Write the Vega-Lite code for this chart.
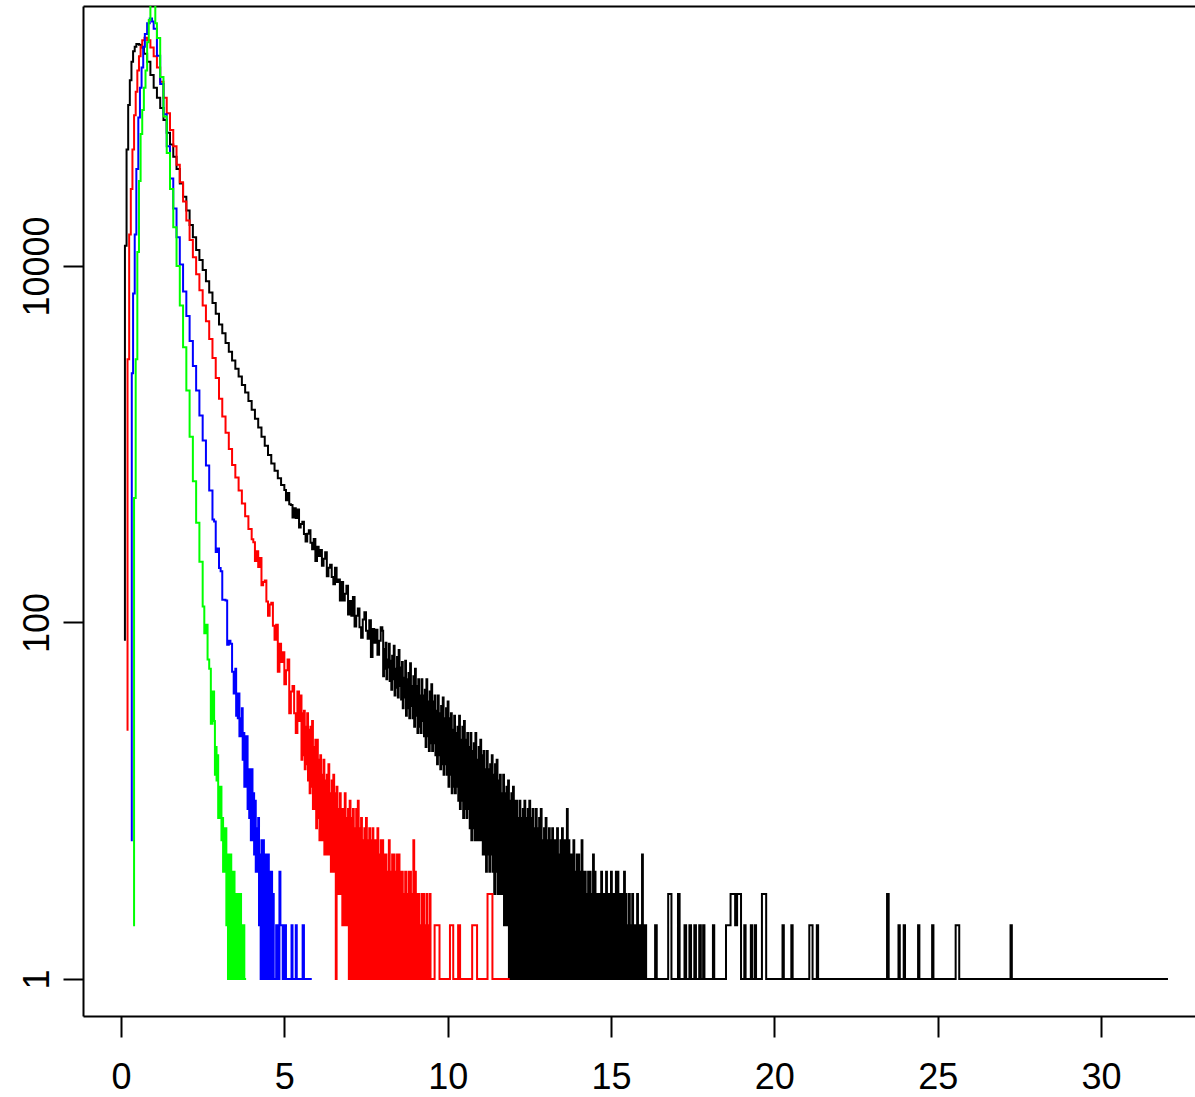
{
  "$schema": "https://vega.github.io/schema/vega-lite/v6.json",
  "width": 1112,
  "height": 1010,
  "autosize": {"type": "none"},
  "padding": {"left": 83, "top": 6, "right": 0, "bottom": 81},
  "background": "white",
  "config": {"view": {"stroke": null}, "font": "Liberation Sans"},
  "datasets": {
    "black": [
      {"x":0.09,"y":80},{"x":0.12,"y":13000},{"x":0.17,"y":45000},{"x":0.22,"y":80000},{"x":0.27,"y":110000},{"x":0.32,"y":140000},{"x":0.37,"y":160000},{"x":0.42,"y":170000},{"x":0.47,"y":176000},{"x":0.55,"y":174000},{"x":0.62,"y":168000},{"x":0.70,"y":155000},{"x":0.80,"y":140000},{"x":0.90,"y":118000},{"x":1.00,"y":100000},{"x":1.10,"y":88000},{"x":1.20,"y":77000},{"x":1.30,"y":66000},{"x":1.40,"y":56000},{"x":1.50,"y":48000},{"x":1.60,"y":41000},{"x":1.70,"y":35000},{"x":1.80,"y":29000},{"x":1.90,"y":24500},{"x":2.00,"y":20500},{"x":2.10,"y":17000},{"x":2.20,"y":14500},{"x":2.30,"y":12300},{"x":2.40,"y":10800},{"x":2.50,"y":9500},{"x":2.60,"y":8200},{"x":2.70,"y":7100},{"x":2.80,"y":6200},{"x":2.90,"y":5400},{"x":3.00,"y":4700},{"x":3.10,"y":4200},{"x":3.20,"y":3700},{"x":3.30,"y":3300},{"x":3.40,"y":2950},{"x":3.50,"y":2650},{"x":3.60,"y":2400},{"x":3.70,"y":2150},{"x":3.80,"y":1950},{"x":3.90,"y":1750},{"x":4.00,"y":1560},{"x":4.10,"y":1390},{"x":4.20,"y":1240},{"x":4.30,"y":1100},{"x":4.40,"y":980},{"x":4.50,"y":870},{"x":4.60,"y":780},{"x":4.70,"y":710},{"x":4.80,"y":645},{"x":4.90,"y":590},
      {"x":5.00,"y":553},{"x":5.05,"y":485},{"x":5.10,"y":532},{"x":5.15,"y":461},{"x":5.20,"y":456},{"x":5.25,"y":388},{"x":5.30,"y":437},{"x":5.35,"y":386},{"x":5.40,"y":430},{"x":5.45,"y":341},{"x":5.50,"y":357},{"x":5.55,"y":368},{"x":5.60,"y":314},{"x":5.65,"y":285},{"x":5.70,"y":315},{"x":5.75,"y":329},{"x":5.80,"y":280},{"x":5.85,"y":258},{"x":5.90,"y":294},{"x":5.95,"y":221},
      {"x":6.00,"y":266},{"x":6.05,"y":236},{"x":6.10,"y":255},{"x":6.15,"y":208},{"x":6.20,"y":228},{"x":6.25,"y":248},{"x":6.30,"y":182},{"x":6.35,"y":203},{"x":6.40,"y":211},{"x":6.45,"y":180},{"x":6.50,"y":164},{"x":6.55,"y":203},{"x":6.60,"y":169},{"x":6.65,"y":174},{"x":6.70,"y":133},{"x":6.75,"y":169},{"x":6.80,"y":133},{"x":6.85,"y":145},{"x":6.90,"y":161},{"x":6.95,"y":111},
      {"x":7.00,"y":132},{"x":7.05,"y":109},{"x":7.10,"y":139},{"x":7.15,"y":95},{"x":7.20,"y":109},{"x":7.25,"y":120},{"x":7.30,"y":94},{"x":7.35,"y":82},{"x":7.40,"y":104},{"x":7.45,"y":114},{"x":7.50,"y":90},{"x":7.55,"y":81},{"x":7.60,"y":103},{"x":7.65,"y":64},{"x":7.70,"y":92},{"x":7.75,"y":77},{"x":7.80,"y":91},{"x":7.85,"y":66},{"x":7.90,"y":79},{"x":7.95,"y":94},
      {"x":8.000,"y":90},{"x":8.025,"y":50},{"x":8.050,"y":71},{"x":8.075,"y":55},{"x":8.100,"y":77},{"x":8.125,"y":48},{"x":8.150,"y":62},{"x":8.175,"y":56},{"x":8.200,"y":76},{"x":8.225,"y":47},{"x":8.250,"y":61},{"x":8.275,"y":42},{"x":8.300,"y":65},{"x":8.325,"y":48},{"x":8.350,"y":74},{"x":8.375,"y":39},{"x":8.400,"y":55},{"x":8.425,"y":43},{"x":8.450,"y":64},{"x":8.475,"y":38},
      {"x":8.500,"y":70},{"x":8.525,"y":44},{"x":8.550,"y":56},{"x":8.575,"y":37},{"x":8.600,"y":60},{"x":8.625,"y":33},{"x":8.650,"y":49},{"x":8.675,"y":38},{"x":8.700,"y":61},{"x":8.725,"y":30},{"x":8.750,"y":48},{"x":8.775,"y":33},{"x":8.800,"y":52},{"x":8.825,"y":29},{"x":8.850,"y":59},{"x":8.875,"y":34},{"x":8.900,"y":44},{"x":8.925,"y":29},{"x":8.950,"y":50},{"x":8.975,"y":26},
      {"x":9.000,"y":55},{"x":9.025,"y":30},{"x":9.050,"y":44},{"x":9.075,"y":24},{"x":9.100,"y":48},{"x":9.125,"y":26},{"x":9.150,"y":39},{"x":9.175,"y":24},{"x":9.200,"y":48},{"x":9.225,"y":28},{"x":9.250,"y":39},{"x":9.275,"y":23},{"x":9.300,"y":42},{"x":9.325,"y":20},{"x":9.350,"y":48},{"x":9.375,"y":23},{"x":9.400,"y":36},{"x":9.425,"y":19},{"x":9.450,"y":41},{"x":9.475,"y":21},
      {"x":9.500,"y":45},{"x":9.525,"y":19},{"x":9.550,"y":36},{"x":9.575,"y":21},{"x":9.600,"y":39},{"x":9.625,"y":18},{"x":9.650,"y":32},{"x":9.675,"y":16},{"x":9.700,"y":39},{"x":9.725,"y":18},{"x":9.750,"y":31},{"x":9.775,"y":15},{"x":9.800,"y":34},{"x":9.825,"y":16},{"x":9.850,"y":38},{"x":9.875,"y":14},{"x":9.900,"y":29},{"x":9.925,"y":16},{"x":9.950,"y":33},{"x":9.975,"y":14},
      {"x":10.000,"y":36},{"x":10.025,"y":12},{"x":10.050,"y":29},{"x":10.075,"y":14},{"x":10.100,"y":31},{"x":10.125,"y":11},{"x":10.150,"y":25},{"x":10.175,"y":12},{"x":10.200,"y":30},{"x":10.225,"y":11},{"x":10.250,"y":24},{"x":10.275,"y":12},{"x":10.300,"y":26},{"x":10.325,"y":10},{"x":10.350,"y":30},{"x":10.375,"y":9},{"x":10.400,"y":22},{"x":10.425,"y":10},{"x":10.450,"y":26},{"x":10.475,"y":8},
      {"x":10.500,"y":28},{"x":10.525,"y":9},{"x":10.550,"y":22},{"x":10.575,"y":8},{"x":10.600,"y":24},{"x":10.625,"y":9},{"x":10.650,"y":20},{"x":10.675,"y":7},{"x":10.700,"y":24},{"x":10.725,"y":6},{"x":10.750,"y":19},{"x":10.775,"y":7},{"x":10.800,"y":21},{"x":10.825,"y":6},{"x":10.850,"y":24},{"x":10.875,"y":6},{"x":10.900,"y":17},{"x":10.925,"y":6},{"x":10.950,"y":20},{"x":10.975,"y":6},
      {"x":11.000,"y":22},{"x":11.025,"y":6},{"x":11.050,"y":18},{"x":11.075,"y":5},{"x":11.100,"y":19},{"x":11.125,"y":5},{"x":11.150,"y":15},{"x":11.175,"y":4},{"x":11.200,"y":19},{"x":11.225,"y":5},{"x":11.250,"y":15},{"x":11.275,"y":4},{"x":11.300,"y":16},{"x":11.325,"y":5},{"x":11.350,"y":18},{"x":11.375,"y":4},{"x":11.400,"y":14},{"x":11.425,"y":3},{"x":11.450,"y":16},{"x":11.475,"y":4},
      {"x":11.500,"y":17},{"x":11.525,"y":3},{"x":11.550,"y":13},{"x":11.575,"y":3},{"x":11.600,"y":14},{"x":11.625,"y":3},{"x":11.650,"y":11},{"x":11.675,"y":3},{"x":11.700,"y":14},{"x":11.725,"y":2},{"x":11.750,"y":11},{"x":11.775,"y":2},{"x":11.800,"y":12},{"x":11.825,"y":2},{"x":11.850,"y":13},{"x":11.875,"y":1},{"x":11.900,"y":10},{"x":11.925,"y":1},{"x":11.950,"y":11},{"x":11.975,"y":1},
      {"x":12.000,"y":12},{"x":12.025,"y":1},{"x":12.050,"y":10},{"x":12.075,"y":1},{"x":12.100,"y":10},{"x":12.125,"y":1},{"x":12.150,"y":8},{"x":12.175,"y":1},{"x":12.200,"y":10},{"x":12.225,"y":1},{"x":12.250,"y":8},{"x":12.275,"y":1},{"x":12.300,"y":9},{"x":12.325,"y":1},{"x":12.350,"y":10},{"x":12.375,"y":1},{"x":12.400,"y":8},{"x":12.425,"y":1},{"x":12.450,"y":9},{"x":12.475,"y":1},
      {"x":12.500,"y":10},{"x":12.525,"y":1},{"x":12.550,"y":8},{"x":12.575,"y":1},{"x":12.600,"y":9},{"x":12.625,"y":1},{"x":12.650,"y":7},{"x":12.675,"y":1},{"x":12.700,"y":9},{"x":12.725,"y":1},{"x":12.750,"y":7},{"x":12.775,"y":1},{"x":12.800,"y":8},{"x":12.825,"y":1},{"x":12.850,"y":9},{"x":12.875,"y":1},{"x":12.900,"y":6},{"x":12.925,"y":1},{"x":12.950,"y":7},{"x":12.975,"y":1},
      {"x":13.000,"y":8},{"x":13.025,"y":1},{"x":13.050,"y":6},{"x":13.075,"y":1},{"x":13.100,"y":7},{"x":13.125,"y":1},{"x":13.150,"y":6},{"x":13.175,"y":1},{"x":13.200,"y":7},{"x":13.225,"y":1},{"x":13.250,"y":6},{"x":13.275,"y":1},{"x":13.300,"y":6},{"x":13.325,"y":1},{"x":13.350,"y":7},{"x":13.375,"y":1},{"x":13.400,"y":5},{"x":13.425,"y":1},{"x":13.450,"y":6},{"x":13.475,"y":1},
      {"x":13.500,"y":7},{"x":13.525,"y":1},{"x":13.550,"y":6},{"x":13.575,"y":1},{"x":13.600,"y":6},{"x":13.625,"y":1},{"x":13.650,"y":9},{"x":13.675,"y":1},{"x":13.700,"y":6},{"x":13.725,"y":1},{"x":13.750,"y":5},{"x":13.775,"y":1},{"x":13.800,"y":5},{"x":13.825,"y":1},{"x":13.850,"y":6},{"x":13.875,"y":1},{"x":13.900,"y":4},{"x":13.925,"y":1},{"x":13.950,"y":5},{"x":13.975,"y":1},
      {"x":14.000,"y":5},{"x":14.025,"y":1},{"x":14.050,"y":4},{"x":14.075,"y":1},{"x":14.100,"y":6},{"x":14.125,"y":1},{"x":14.150,"y":4},{"x":14.175,"y":1},{"x":14.200,"y":4},{"x":14.225,"y":1},{"x":14.250,"y":3},{"x":14.275,"y":1},{"x":14.300,"y":4},{"x":14.325,"y":1},{"x":14.350,"y":4},{"x":14.375,"y":1},{"x":14.400,"y":3},{"x":14.425,"y":1},{"x":14.450,"y":5},{"x":14.475,"y":1},
      {"x":14.500,"y":4},{"x":14.525,"y":1},{"x":14.550,"y":3},{"x":14.575,"y":1},{"x":14.600,"y":3},{"x":14.625,"y":1},{"x":14.650,"y":3},{"x":14.675,"y":1},{"x":14.700,"y":4},{"x":14.725,"y":1},{"x":14.750,"y":3},{"x":14.775,"y":1},{"x":14.800,"y":3},{"x":14.825,"y":1},{"x":14.850,"y":4},{"x":14.875,"y":1},{"x":14.900,"y":3},{"x":14.925,"y":1},{"x":14.950,"y":3},{"x":14.975,"y":1},
      {"x":15.000,"y":4},{"x":15.025,"y":1},{"x":15.050,"y":3},{"x":15.075,"y":1},{"x":15.100,"y":3},{"x":15.125,"y":1},{"x":15.150,"y":4},{"x":15.175,"y":1},{"x":15.200,"y":4},{"x":15.225,"y":1},{"x":15.250,"y":3},{"x":15.275,"y":1},{"x":15.300,"y":3},{"x":15.325,"y":1},{"x":15.350,"y":3},{"x":15.375,"y":1},{"x":15.400,"y":4},{"x":15.425,"y":1},{"x":15.450,"y":3},{"x":15.475,"y":1},
      {"x":15.500,"y":2},{"x":15.525,"y":1},{"x":15.550,"y":3},{"x":15.575,"y":1},{"x":15.600,"y":2},{"x":15.625,"y":1},{"x":15.650,"y":3},{"x":15.675,"y":1},{"x":15.700,"y":2},{"x":15.725,"y":1},{"x":15.750,"y":2},{"x":15.775,"y":1},{"x":15.800,"y":3},{"x":15.825,"y":1},{"x":15.850,"y":2},{"x":15.875,"y":1},{"x":15.900,"y":2},{"x":15.925,"y":1},{"x":15.950,"y":5},{"x":15.975,"y":1},
      {"x":16.000,"y":2},{"x":16.025,"y":1},{"x":16.050,"y":2},{"x":16.075,"y":1},
      {"x":16.35,"y":2},{"x":16.40,"y":1},{"x":16.75,"y":3},{"x":16.85,"y":1},{"x":17.05,"y":3},{"x":17.10,"y":1},{"x":17.25,"y":2},{"x":17.30,"y":1},{"x":17.40,"y":2},{"x":17.45,"y":1},{"x":17.55,"y":2},{"x":17.60,"y":1},{"x":17.70,"y":2},{"x":17.75,"y":1},{"x":17.82,"y":2},{"x":17.86,"y":1},{"x":18.12,"y":2},{"x":18.16,"y":1},{"x":18.52,"y":2},{"x":18.66,"y":3},{"x":18.80,"y":2},{"x":18.86,"y":3},{"x":18.98,"y":1},{"x":19.08,"y":2},{"x":19.12,"y":1},{"x":19.28,"y":2},{"x":19.32,"y":1},{"x":19.40,"y":2},{"x":19.44,"y":1},{"x":19.62,"y":3},{"x":19.75,"y":1},{"x":20.25,"y":2},{"x":20.29,"y":1},{"x":20.52,"y":2},{"x":20.56,"y":1},{"x":21.07,"y":2},{"x":21.17,"y":1},{"x":21.30,"y":2},{"x":21.34,"y":1},{"x":23.45,"y":3},{"x":23.50,"y":1},{"x":23.80,"y":2},{"x":23.84,"y":1},{"x":23.96,"y":2},{"x":24.00,"y":1},{"x":24.40,"y":2},{"x":24.44,"y":1},{"x":24.83,"y":2},{"x":24.87,"y":1},{"x":25.55,"y":2},{"x":25.66,"y":1},{"x":27.23,"y":2},{"x":27.27,"y":1},{"x":32.05,"y":1}
    ],
    "red": [
      {"x":0.17,"y":25},{"x":0.20,"y":3000},{"x":0.25,"y":15000},{"x":0.30,"y":27000},{"x":0.35,"y":45000},{"x":0.40,"y":70000},{"x":0.45,"y":95000},{"x":0.50,"y":125000},{"x":0.55,"y":150000},{"x":0.60,"y":170000},{"x":0.65,"y":185000},{"x":0.72,"y":191000},{"x":0.80,"y":185000},{"x":0.90,"y":168000},{"x":1.00,"y":150000},{"x":1.10,"y":130000},{"x":1.20,"y":108000},{"x":1.30,"y":88000},{"x":1.40,"y":72000},{"x":1.50,"y":58000},{"x":1.60,"y":47000},{"x":1.70,"y":37000},{"x":1.80,"y":29500},{"x":1.90,"y":23000},{"x":2.00,"y":18000},{"x":2.10,"y":14000},{"x":2.20,"y":11200},{"x":2.30,"y":9000},{"x":2.40,"y":7300},{"x":2.50,"y":6000},{"x":2.60,"y":4900},{"x":2.70,"y":3900},{"x":2.80,"y":3050},{"x":2.90,"y":2350},{"x":3.00,"y":1800},{"x":3.10,"y":1430},{"x":3.20,"y":1160},{"x":3.30,"y":940},{"x":3.40,"y":765},{"x":3.50,"y":650},{"x":3.60,"y":550},{"x":3.70,"y":465},{"x":3.80,"y":395},{"x":3.90,"y":335},
      {"x":4.00,"y":293},{"x":4.05,"y":282},{"x":4.10,"y":221},{"x":4.15,"y":251},{"x":4.20,"y":205},{"x":4.25,"y":230},{"x":4.30,"y":162},{"x":4.35,"y":169},{"x":4.40,"y":172},{"x":4.45,"y":131},{"x":4.50,"y":109},{"x":4.55,"y":126},{"x":4.60,"y":129},{"x":4.65,"y":96},{"x":4.70,"y":80},{"x":4.75,"y":97},{"x":4.80,"y":53},{"x":4.85,"y":76},{"x":4.90,"y":60},{"x":4.95,"y":68},
      {"x":5.00,"y":45},{"x":5.05,"y":54},{"x":5.10,"y":62},{"x":5.15,"y":31},{"x":5.20,"y":41},{"x":5.25,"y":44},{"x":5.30,"y":31},{"x":5.35,"y":24},{"x":5.40,"y":41},{"x":5.45,"y":28},
      {"x":5.500,"y":39},{"x":5.525,"y":17},{"x":5.550,"y":31},{"x":5.575,"y":18},{"x":5.600,"y":32},{"x":5.625,"y":15},{"x":5.650,"y":26},{"x":5.675,"y":16},{"x":5.700,"y":31},{"x":5.725,"y":13},{"x":5.750,"y":25},{"x":5.775,"y":11},{"x":5.800,"y":26},{"x":5.825,"y":12},{"x":5.850,"y":28},{"x":5.875,"y":9},{"x":5.900,"y":20},{"x":5.925,"y":9},{"x":5.950,"y":22},{"x":5.975,"y":7},
      {"x":6.000,"y":22},{"x":6.025,"y":8},{"x":6.050,"y":17},{"x":6.075,"y":6},{"x":6.100,"y":18},{"x":6.125,"y":6},{"x":6.150,"y":14},{"x":6.175,"y":6},{"x":6.200,"y":17},{"x":6.225,"y":5},{"x":6.250,"y":13},{"x":6.275,"y":5},{"x":6.300,"y":14},{"x":6.325,"y":5},{"x":6.350,"y":16},{"x":6.375,"y":5},{"x":6.400,"y":11},{"x":6.425,"y":4},{"x":6.450,"y":13},{"x":6.475,"y":4},
      {"x":6.500,"y":14},{"x":6.525,"y":4},{"x":6.550,"y":11},{"x":6.575,"y":1},{"x":6.600,"y":12},{"x":6.625,"y":3},{"x":6.650,"y":9},{"x":6.675,"y":3},{"x":6.700,"y":11},{"x":6.725,"y":3},{"x":6.750,"y":9},{"x":6.775,"y":2},{"x":6.800,"y":9},{"x":6.825,"y":2},{"x":6.850,"y":11},{"x":6.875,"y":2},{"x":6.900,"y":8},{"x":6.925,"y":2},{"x":6.950,"y":9},{"x":6.975,"y":1},
      {"x":7.000,"y":10},{"x":7.025,"y":1},{"x":7.050,"y":8},{"x":7.075,"y":1},{"x":7.100,"y":9},{"x":7.125,"y":1},{"x":7.150,"y":7},{"x":7.175,"y":1},{"x":7.200,"y":9},{"x":7.225,"y":1},{"x":7.250,"y":10},{"x":7.275,"y":1},{"x":7.300,"y":7},{"x":7.325,"y":1},{"x":7.350,"y":8},{"x":7.375,"y":1},{"x":7.400,"y":6},{"x":7.425,"y":1},{"x":7.450,"y":7},{"x":7.475,"y":1},
      {"x":7.500,"y":8},{"x":7.525,"y":1},{"x":7.550,"y":6},{"x":7.575,"y":1},{"x":7.600,"y":7},{"x":7.625,"y":1},{"x":7.650,"y":6},{"x":7.675,"y":1},{"x":7.700,"y":7},{"x":7.725,"y":1},{"x":7.750,"y":6},{"x":7.775,"y":1},{"x":7.800,"y":6},{"x":7.825,"y":1},{"x":7.850,"y":7},{"x":7.875,"y":1},{"x":7.900,"y":5},{"x":7.925,"y":1},{"x":7.950,"y":6},{"x":7.975,"y":1},
      {"x":8.000,"y":6},{"x":8.025,"y":1},{"x":8.050,"y":5},{"x":8.075,"y":1},{"x":8.100,"y":5},{"x":8.125,"y":1},{"x":8.150,"y":4},{"x":8.175,"y":1},{"x":8.200,"y":6},{"x":8.225,"y":1},{"x":8.250,"y":4},{"x":8.275,"y":1},{"x":8.300,"y":5},{"x":8.325,"y":1},{"x":8.350,"y":5},{"x":8.375,"y":1},{"x":8.400,"y":4},{"x":8.425,"y":1},{"x":8.450,"y":5},{"x":8.475,"y":1},
      {"x":8.500,"y":5},{"x":8.525,"y":1},{"x":8.550,"y":4},{"x":8.575,"y":1},{"x":8.600,"y":4},{"x":8.625,"y":1},{"x":8.650,"y":3},{"x":8.675,"y":1},{"x":8.700,"y":4},{"x":8.725,"y":1},{"x":8.750,"y":3},{"x":8.775,"y":1},{"x":8.800,"y":4},{"x":8.825,"y":1},{"x":8.850,"y":4},{"x":8.875,"y":1},{"x":8.900,"y":3},{"x":8.925,"y":1},{"x":8.950,"y":6},{"x":8.975,"y":1},
      {"x":9.000,"y":4},{"x":9.025,"y":1},{"x":9.050,"y":3},{"x":9.075,"y":1},{"x":9.100,"y":3},{"x":9.125,"y":1},{"x":9.150,"y":2},{"x":9.175,"y":1},{"x":9.200,"y":3},{"x":9.225,"y":1},{"x":9.250,"y":3},{"x":9.275,"y":1},{"x":9.300,"y":2},{"x":9.325,"y":1},{"x":9.350,"y":3},{"x":9.375,"y":1},{"x":9.400,"y":2},{"x":9.425,"y":1},{"x":9.450,"y":3},{"x":9.475,"y":1},
      {"x":9.60,"y":2},{"x":9.75,"y":1},{"x":10.07,"y":2},{"x":10.17,"y":1},{"x":10.32,"y":2},{"x":10.38,"y":1},{"x":10.75,"y":2},{"x":10.90,"y":1},{"x":11.22,"y":3},{"x":11.37,"y":1},{"x":11.90,"y":1}
    ],
    "blue": [
      {"x":0.30,"y":6},{"x":0.33,"y":2500},{"x":0.37,"y":7000},{"x":0.42,"y":15000},{"x":0.47,"y":35000},{"x":0.53,"y":68000},{"x":0.58,"y":100000},{"x":0.63,"y":130000},{"x":0.68,"y":170000},{"x":0.73,"y":200000},{"x":0.80,"y":230000},{"x":0.88,"y":245000},{"x":0.95,"y":235000},{"x":1.00,"y":214000},{"x":1.10,"y":151000},{"x":1.20,"y":105000},{"x":1.30,"y":71000},{"x":1.40,"y":47000},{"x":1.50,"y":31000},{"x":1.60,"y":21000},{"x":1.70,"y":14500},{"x":1.80,"y":10200},{"x":1.90,"y":7200},{"x":2.00,"y":5250},{"x":2.10,"y":3800},{"x":2.20,"y":2750},{"x":2.30,"y":2000},{"x":2.40,"y":1450},{"x":2.50,"y":1050},{"x":2.60,"y":760},{"x":2.70,"y":550},
      {"x":2.80,"y":378},{"x":2.85,"y":369},{"x":2.90,"y":249},{"x":2.95,"y":260},{"x":3.00,"y":202},{"x":3.05,"y":194},{"x":3.10,"y":134},{"x":3.15,"y":134},{"x":3.20,"y":133},{"x":3.25,"y":75},{"x":3.30,"y":79},{"x":3.35,"y":76},{"x":3.40,"y":53},{"x":3.45,"y":40},
      {"x":3.500,"y":55},{"x":3.525,"y":30},{"x":3.550,"y":40},{"x":3.575,"y":29},{"x":3.600,"y":40},{"x":3.625,"y":23},{"x":3.650,"y":29},{"x":3.675,"y":23},{"x":3.700,"y":33},{"x":3.725,"y":17},{"x":3.750,"y":24},{"x":3.775,"y":12},{"x":3.800,"y":23},{"x":3.825,"y":12},{"x":3.850,"y":23},{"x":3.875,"y":9},{"x":3.900,"y":15},{"x":3.925,"y":8},{"x":3.950,"y":15},{"x":3.975,"y":6},
      {"x":4.000,"y":15},{"x":4.025,"y":6},{"x":4.050,"y":11},{"x":4.075,"y":5},{"x":4.100,"y":10},{"x":4.125,"y":4},{"x":4.150,"y":7},{"x":4.175,"y":4},{"x":4.200,"y":8},{"x":4.225,"y":2},{"x":4.250,"y":5},{"x":4.275,"y":1},{"x":4.300,"y":6},{"x":4.325,"y":1},{"x":4.350,"y":6},{"x":4.375,"y":1},{"x":4.400,"y":5},{"x":4.425,"y":1},{"x":4.450,"y":5},{"x":4.475,"y":1},
      {"x":4.500,"y":5},{"x":4.525,"y":1},{"x":4.550,"y":4},{"x":4.575,"y":1},{"x":4.600,"y":4},{"x":4.625,"y":1},{"x":4.650,"y":3},{"x":4.675,"y":1},
      {"x":4.75,"y":2},{"x":4.80,"y":1},{"x":4.85,"y":4},{"x":4.88,"y":2},{"x":4.95,"y":1},{"x":5.00,"y":2},{"x":5.05,"y":1},{"x":5.22,"y":2},{"x":5.25,"y":1},{"x":5.35,"y":2},{"x":5.38,"y":1},{"x":5.56,"y":2},{"x":5.60,"y":1},{"x":5.84,"y":1}
    ],
    "green": [
      {"x":0.37,"y":2},{"x":0.40,"y":500},{"x":0.45,"y":3000},{"x":0.50,"y":12000},{"x":0.55,"y":30000},{"x":0.60,"y":55000},{"x":0.65,"y":75000},{"x":0.70,"y":100000},{"x":0.75,"y":125000},{"x":0.80,"y":180000},{"x":0.85,"y":240000},{"x":0.90,"y":310000},{"x":0.95,"y":330000},{"x":1.00,"y":300000},{"x":1.05,"y":230000},{"x":1.10,"y":190000},{"x":1.20,"y":115000},{"x":1.30,"y":69000},{"x":1.40,"y":43000},{"x":1.50,"y":27000},{"x":1.60,"y":16500},{"x":1.70,"y":10000},{"x":1.80,"y":6000},{"x":1.90,"y":3500},{"x":2.00,"y":2000},{"x":2.10,"y":1100},{"x":2.20,"y":620},{"x":2.30,"y":363},{"x":2.40,"y":219},
      {"x":2.50,"y":123},{"x":2.55,"y":87},{"x":2.60,"y":97},{"x":2.65,"y":62},{"x":2.70,"y":55},{"x":2.75,"y":27},{"x":2.80,"y":41},
      {"x":2.850,"y":28},{"x":2.875,"y":14},{"x":2.900,"y":20},{"x":2.925,"y":13},{"x":2.950,"y":18},{"x":2.975,"y":8},{"x":3.000,"y":12},{"x":3.025,"y":8},{"x":3.050,"y":12},{"x":3.075,"y":6},{"x":3.100,"y":8},{"x":3.125,"y":4},{"x":3.150,"y":7},{"x":3.175,"y":4},{"x":3.200,"y":7},{"x":3.225,"y":2},{"x":3.250,"y":5},{"x":3.275,"y":1},{"x":3.300,"y":5},{"x":3.325,"y":1},
      {"x":3.350,"y":5},{"x":3.375,"y":1},{"x":3.400,"y":4},{"x":3.425,"y":1},{"x":3.450,"y":4},{"x":3.475,"y":1},{"x":3.500,"y":3},{"x":3.525,"y":1},{"x":3.550,"y":3},{"x":3.575,"y":1},{"x":3.600,"y":3},{"x":3.625,"y":1},{"x":3.650,"y":3},{"x":3.675,"y":1},{"x":3.700,"y":2},{"x":3.725,"y":1},{"x":3.750,"y":2},{"x":3.775,"y":1},{"x":3.83,"y":1}
    ]
  },
  "encoding": {
    "y": {
      "field": "y", "type": "quantitative",
      "scale": {"type": "log", "domain": [0.62, 287500], "nice": false, "zero": false},
      "axis": {
        "values": [1, 100, 10000], "format": "d", "title": null, "grid": false,
        "domain": true, "domainColor": "black", "domainWidth": 2,
        "ticks": true, "tickSize": 20, "tickWidth": 2, "tickColor": "black",
        "labelAngle": 270, "labelAlign": "center", "labelBaseline": "alphabetic",
        "labelPadding": 15, "labelFontSize": 36, "labelFont": "Liberation Sans", "labelColor": "black",
        "labelFlush": false, "labelOverlap": false
      }
    }
  },
  "resolve": {"axis": {"x": "independent"}},
  "layer": [
    {
      "data": {"name": "black"},
      "mark": {"type": "line", "interpolate": "step-after", "color": "#000000", "strokeWidth": 2, "clip": true},
      "encoding": {
        "x": {
          "field": "x", "type": "quantitative",
          "scale": {"domain": [-1.1633, 32.877], "nice": false, "zero": false},
          "axis": {
            "orient": "bottom", "values": [0, 5, 10, 15, 20, 25, 30], "format": "d", "title": null, "grid": false,
            "domain": true, "domainColor": "black", "domainWidth": 2,
            "ticks": true, "tickSize": 21, "tickWidth": 2, "tickColor": "black",
            "labelPadding": 23, "labelFontSize": 36, "labelFont": "Liberation Sans", "labelColor": "black",
            "labelFlush": false, "labelOverlap": false
          }
        }
      }
    },
    {
      "data": {"name": "red"},
      "mark": {"type": "line", "interpolate": "step-after", "color": "#FF0000", "strokeWidth": 2, "clip": true},
      "encoding": {
        "x": {
          "field": "x", "type": "quantitative",
          "scale": {"domain": [-1.1633, 32.877], "nice": false, "zero": false},
          "axis": {
            "orient": "top", "title": null, "grid": false, "labels": false, "ticks": false,
            "domain": true, "domainColor": "black", "domainWidth": 2
          }
        }
      }
    },
    {
      "data": {"name": "blue"},
      "mark": {"type": "line", "interpolate": "step-after", "color": "#0000FF", "strokeWidth": 2, "clip": true},
      "encoding": {
        "x": {
          "field": "x", "type": "quantitative",
          "scale": {"domain": [-1.1633, 32.877], "nice": false, "zero": false},
          "axis": null
        }
      }
    },
    {
      "data": {"name": "green"},
      "mark": {"type": "line", "interpolate": "step-after", "color": "#00FF00", "strokeWidth": 2, "clip": true},
      "encoding": {
        "x": {
          "field": "x", "type": "quantitative",
          "scale": {"domain": [-1.1633, 32.877], "nice": false, "zero": false},
          "axis": null
        }
      }
    }
  ]
}
